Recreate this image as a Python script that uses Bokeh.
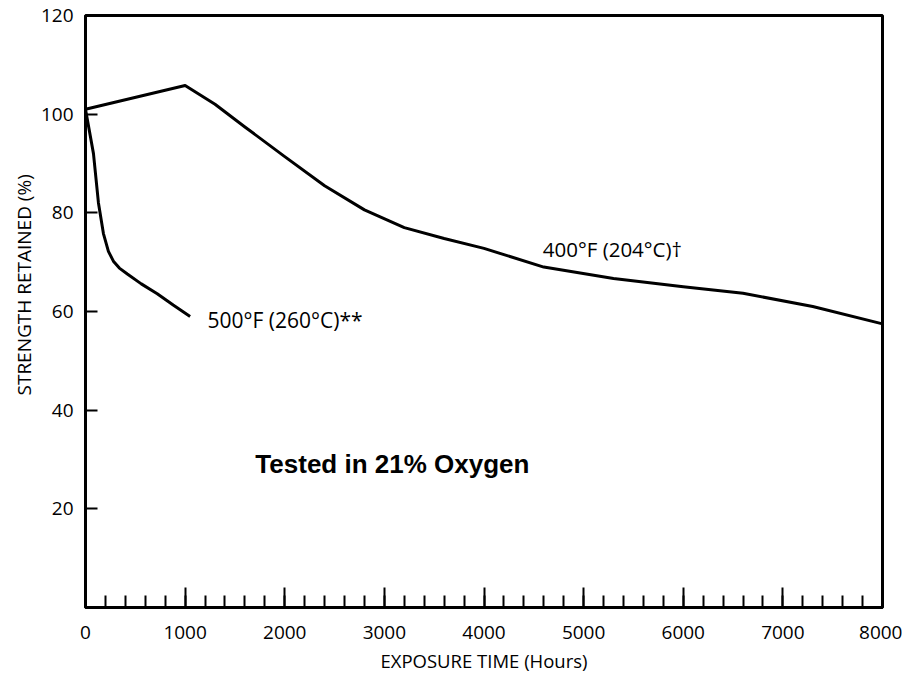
from bokeh.plotting import figure
from bokeh.models import Range1d, SingleIntervalTicker, FixedTicker, Label, Title
from bokeh.embed import file_html
from bokeh.resources import INLINE

# Data
hours_400F = [0, 1000, 1300, 1600, 2000, 2400, 2800, 3200, 3600, 4000, 4600, 5300, 6000, 6600, 7300, 8000]
strength_400F = [101, 105.8, 102, 97.4, 91.4, 85.5, 80.6, 77.0, 74.8, 72.8, 69.0, 66.7, 65.0, 63.7, 61.0, 57.5]

hours_500F = [0, 80, 130, 180, 230, 280, 340, 420, 560, 720, 880, 1050]
strength_500F = [101, 92, 82, 75.8, 72.2, 70.2, 68.8, 67.6, 65.6, 63.6, 61.3, 59.0]

y_ticks = [20, 40, 60, 80, 100, 120]
label_400F = "400°F (204°C)†"
label_500F = "500°F (260°C)**"
note = "Tested in 21% Oxygen"
x_title = "EXPOSURE TIME (Hours)"
y_title = "STRENGTH RETAINED (%)"

FONT = "Open Sans"

p = figure(frame_width=797, frame_height=592,
           x_range=Range1d(0, 8000), y_range=Range1d(0, 120),
           output_backend="svg", toolbar_location=None,
           min_border_left=85, min_border_top=15, min_border_right=20, min_border_bottom=10,
           background_fill_color="white", border_fill_color="white")

p.xgrid.visible = False
p.ygrid.visible = False
p.outline_line_color = "black"
p.outline_line_width = 3

# X axis
xa = p.xaxis[0]
xa.ticker = SingleIntervalTicker(interval=1000, num_minor_ticks=5)
xa.axis_label = x_title
xa.axis_label_text_font = FONT
xa.axis_label_text_font_style = "normal"
xa.axis_label_text_font_size = "18.5px"
xa.axis_label_text_color = "black"
xa.axis_label_standoff = 6
xa.major_label_text_font = FONT
xa.major_label_text_font_size = "19px"
xa.major_label_text_color = "black"
xa.major_label_standoff = 18
xa.axis_line_width = 3
xa.axis_line_color = "black"
xa.major_tick_in = 20
xa.major_tick_out = 0
xa.minor_tick_in = 12
xa.minor_tick_out = 0
xa.major_tick_line_width = 2
xa.minor_tick_line_width = 2
xa.major_tick_line_color = "black"
xa.minor_tick_line_color = "black"

# Y axis
ya = p.yaxis[0]
ya.ticker = FixedTicker(ticks=y_ticks)
ya.major_label_text_font = FONT
ya.major_label_text_font_size = "19px"
ya.major_label_text_color = "black"
ya.major_label_standoff = 12
ya.axis_line_width = 3
ya.axis_line_color = "black"
ya.major_tick_in = 12
ya.major_tick_out = 0
ya.minor_tick_line_color = None
ya.major_tick_line_width = 2
ya.major_tick_line_color = "black"

# Y axis title (as a side title so it can sit higher, like the original)
p.add_layout(Title(text=y_title, align="left", offset=212, standoff=2,
                   text_font=FONT, text_font_size="19px", text_font_style="normal",
                   text_color="black"), "left")

# Curves
p.line(hours_400F, strength_400F, line_width=3, line_color="black", line_join="round")
p.line(hours_500F, strength_500F, line_width=3, line_color="black", line_join="round")

# Annotations
p.add_layout(Label(x=4590, y=72.7, text=label_400F, text_font=FONT, text_font_size="20.5px",
                   text_baseline="middle", text_align="left", text_color="black"))
p.add_layout(Label(x=1225, y=58.3, text=label_500F, text_font=FONT, text_font_size="21px",
                   text_baseline="middle", text_align="left", text_color="black"))
p.add_layout(Label(x=1705, y=29.1, text=note, text_font="Liberation Sans", text_font_style="bold",
                   text_font_size="26px", text_baseline="middle", text_align="left", text_color="black"))

open("out.html", "w").write(file_html(p, INLINE))
